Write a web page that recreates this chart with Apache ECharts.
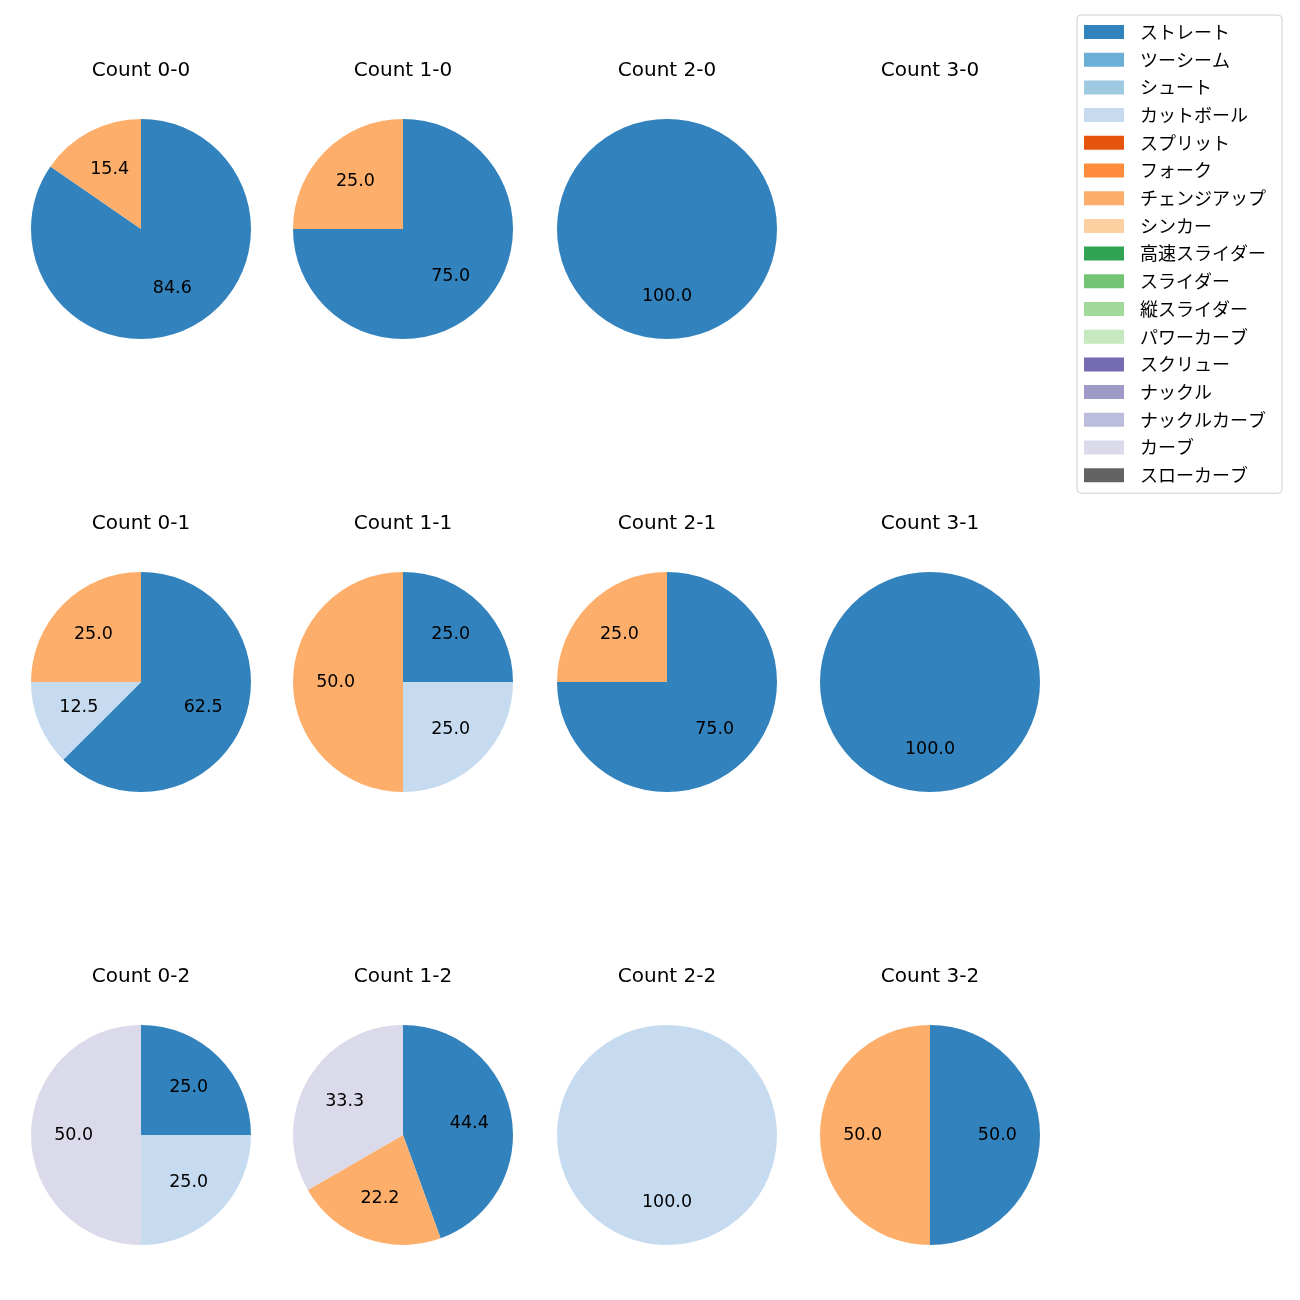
<!DOCTYPE html>
<html><head><meta charset="utf-8">
<script src="https://cdn.jsdelivr.net/npm/echarts@6/dist/echarts.min.js"></script>
<style>html,body{margin:0;padding:0;background:#fff}#c{width:1300px;height:1300px}</style>
</head><body><div id="c"></div>
<script>
const pitchTypes = ['ストレート','ツーシーム','シュート','カットボール','スプリット','フォーク','チェンジアップ','シンカー','高速スライダー','スライダー','縦スライダー','パワーカーブ','スクリュー','ナックル','ナックルカーブ','カーブ','スローカーブ'];
const pitchColors = ['#3182bd','#6baed6','#9ecae1','#c6dbef','#e6550d','#fd8d3c','#fdae6b','#fdd0a2','#31a354','#74c476','#a1d99b','#c7e9c0','#756bb1','#9e9ac8','#bcbddc','#dadaeb','#636363'];
const countTitles = ['Count 0-0','Count 1-0','Count 2-0','Count 3-0','Count 0-1','Count 1-1','Count 2-1','Count 3-1','Count 0-2','Count 1-2','Count 2-2','Count 3-2'];
// counts per pitch type (order of pitchTypes)
const count00 = [11,0,0,0,0,0,2,0,0,0,0,0,0,0,0,0,0];
const count10 = [3,0,0,0,0,0,1,0,0,0,0,0,0,0,0,0,0];
const count20 = [1,0,0,0,0,0,0,0,0,0,0,0,0,0,0,0,0];
const count30 = [0,0,0,0,0,0,0,0,0,0,0,0,0,0,0,0,0];
const count01 = [5,0,0,1,0,0,2,0,0,0,0,0,0,0,0,0,0];
const count11 = [1,0,0,1,0,0,2,0,0,0,0,0,0,0,0,0,0];
const count21 = [3,0,0,0,0,0,1,0,0,0,0,0,0,0,0,0,0];
const count31 = [1,0,0,0,0,0,0,0,0,0,0,0,0,0,0,0,0];
const count02 = [1,0,0,1,0,0,0,0,0,0,0,0,0,0,0,2,0];
const count12 = [4,0,0,0,0,0,2,0,0,0,0,0,0,0,0,3,0];
const count22 = [0,0,0,1,0,0,0,0,0,0,0,0,0,0,0,0,0];
const count32 = [1,0,0,0,0,0,1,0,0,0,0,0,0,0,0,0,0];
const allCounts = [count00,count10,count20,count30,count01,count11,count21,count31,count02,count12,count22,count32];

const colX = [141, 403, 667, 930];
const rowY = [229, 682, 1135];
const R = 110;
const LATIN = '"DejaVu Sans", "Noto Sans CJK JP", sans-serif';
const CJK = '"Noto Sans CJK JP", "DejaVu Sans", sans-serif';

const titles = [];
const series = [];
allCounts.forEach((vals, i) => {
  const cx = colX[i % 4], cy = rowY[Math.floor(i / 4)];
  titles.push({text: countTitles[i], left: cx, top: cy - 168, textAlign: 'center', padding: 0,
    textStyle: {fontFamily: LATIN, fontSize: 20, fontWeight: 'normal', color: '#000'}});
  const total = vals.reduce((a, b) => a + b, 0);
  if (total === 0) return;
  const data = pitchTypes.map((n, k) => ({name: n, value: vals[k], itemStyle: {color: pitchColors[k]}}));
  series.push({type: 'pie', center: [cx, cy], radius: [0, R], startAngle: 90, clockwise: true,
    stillShowZeroSum: false, silent: true, label: {show: false}, labelLine: {show: false},
    emphasis: {disabled: true}, data: data});
  series.push({type: 'pie', center: [cx, cy], radius: [R * 0.17, R], startAngle: 90, clockwise: true,
    silent: true, legendHoverLink: false, emphasis: {disabled: true},
    itemStyle: {color: 'rgba(0,0,0,0)'},
    label: {show: true, position: 'inside', fontFamily: LATIN, fontSize: 17.5, color: '#000',
      formatter: p => p.value > 0 ? (p.value / total * 100).toFixed(1) : ''},
    labelLine: {show: false},
    data: pitchTypes.map((n, k) => ({name: '_' + n, value: vals[k]}))});
});

const chart = echarts.init(document.getElementById('c'));
chart.setOption({
  animation: false,
  title: titles,
  legend: {data: pitchTypes, orient: 'vertical', left: 1077, top: 15,
    padding: [8, 16, 9, 7], itemWidth: 40, itemHeight: 14, itemGap: 9.7, icon: 'rect',
    borderColor: '#d0d0d0', borderWidth: 1, borderRadius: 4, selectedMode: false,
    textStyle: {fontFamily: CJK, fontSize: 18, color: '#000', padding: [0, 0, 0, 11]}},
  series: series
});
</script></body></html>
